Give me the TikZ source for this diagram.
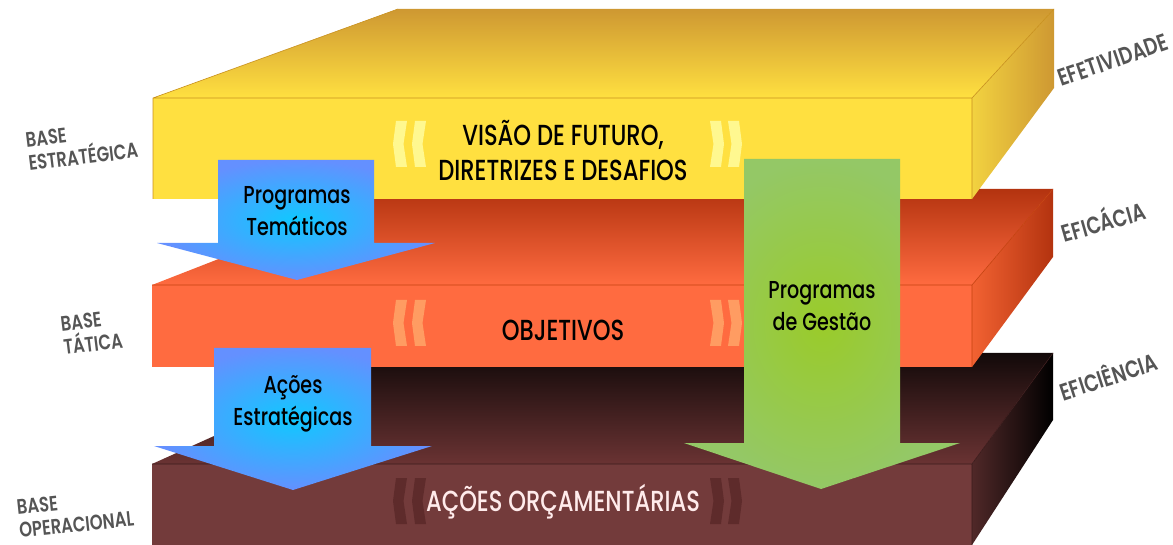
\documentclass[tikz,border=0pt]{standalone}
\usepackage{fontspec}
\setmainfont{Poppins}[FakeStretch=0.78, UprightFont=* Medium, BoldFont=* SemiBold]

\definecolor{yfront}{HTML}{FFE040}
\definecolor{ytopback}{HTML}{CE9832}
\definecolor{yside}{HTML}{F2D240}
\definecolor{yedge}{HTML}{C8901E}
\definecolor{ychev}{HTML}{FFF890}
\definecolor{rfront}{HTML}{FF6B40}
\definecolor{rtopback}{HTML}{B3330F}
\definecolor{rside}{HTML}{F26232}
\definecolor{redge}{HTML}{C4410F}
\definecolor{rchev}{HTML}{FF9C62}
\definecolor{bfront}{HTML}{733B3B}
\definecolor{btopback}{HTML}{120909}
\definecolor{btopfront}{HTML}{6A3333}
\definecolor{bside}{HTML}{502828}
\definecolor{bedge}{HTML}{3A1A1A}
\definecolor{bchev}{HTML}{5E2B2B}
\definecolor{arrowblue}{HTML}{6490FF}
\definecolor{arrowcyan}{HTML}{10C8FF}
\definecolor{arrowgreen}{HTML}{94C866}
\definecolor{arrowlime}{HTML}{9ACB2A}
\definecolor{labelgray}{HTML}{555555}

\tikzset{
  slabtext/.style={font=\fontsize{29}{35}\selectfont, align=center},
  arrowtext/.style={font=\fontsize{24.5}{32}\selectfont, align=center, text=black},
  sidelabel/.style={font=\bfseries\fontsize{21}{23.5}\selectfont, text=labelgray, align=left, inner sep=0pt},
  sidelabelr/.style={sidelabel, font=\bfseries\fontsize{24}{24}\selectfont},
  edge/.style={line width=0.6pt},
}

\begin{document}
\begin{tikzpicture}[x=1pt, y=-1pt]

  \useasboundingbox (0,0) rectangle (1173,545);

  % base operacional
  \shade[top color=btopback, bottom color=btopfront] (398,353) -- (1053,353) -- (972,464) -- (152,464) -- cycle;
  \shade[left color=bside, right color=black] (972,464) -- (1053,353) -- (1053,420) -- (972,545) -- cycle;
  \fill[bfront] (152,464) rectangle (972,545);
  \draw[edge, bedge] (152,464) -- (972,464) -- (1053,353) (972,464) -- (972,545);

  % base tatica
  \shade[top color=rtopback, bottom color=rfront] (398,189) -- (1053,189) -- (972,285) -- (152,285) -- cycle;
  \shade[left color=rside, right color=rtopback] (972,285) -- (1053,189) -- (1053,257) -- (972,367) -- cycle;
  \fill[rfront] (152,285) rectangle (972,367);
  \draw[edge, redge] (152,285) -- (972,285) -- (1053,189) (972,285) -- (972,367);

  % base estrategica
  \shade[top color=ytopback, bottom color=yfront] (398,9) -- (1054,9) -- (972,98) -- (153,98) -- cycle;
  \shade[left color=yside, right color=ytopback] (972,98) -- (1054,9) -- (1054,88) -- (972,199) -- cycle;
  \fill[yfront] (153,98) rectangle (972,199);
  \draw[edge, yedge] (153,199) -- (153,98) -- (398,9) (153,98) -- (972,98) -- (1054,9) (972,98) -- (972,199);

  % chevrons
  \foreach \t/\c in {121/ychev, 300/rchev, 478/bchev} {
    \foreach \a in {393, 412}
      \fill[\c] (\a+3,\t) -- (\a+14,\t) -- (\a+10.5,\t+23) -- (\a+14,\t+46) -- (\a+3,\t+46) -- (\a,\t+23) -- cycle;
    \foreach \b in {724, 742}
      \fill[\c] (\b-3,\t) -- (\b-14,\t) -- (\b-10.5,\t+23) -- (\b-14,\t+46) -- (\b-3,\t+46) -- (\b,\t+23) -- cycle;
  }

  \node[slabtext] (visao) at (563,150) {VISÃO DE FUTURO,\\DIRETRIZES E DESAFIOS};
  \node[slabtext] (objetivos) at (563,330) {OBJETIVOS};
  \node[slabtext, text=white!92!red] (acoesorc) at (563,502) {AÇÕES ORÇAMENTÁRIAS};

  % arrows
  \shade[inner color=arrowcyan, outer color=arrowblue] (218,160) -- (374,160) -- (374,243) -- (435,243) -- (297,280) -- (157,243) -- (218,243) -- cycle;
  \shade[inner color=arrowcyan, outer color=arrowblue] (214,348) -- (371,348) -- (371,446) -- (432,446) -- (293,490) -- (154,446) -- (214,446) -- cycle;
  \shade[inner color=arrowlime, outer color=arrowgreen] (744,159) -- (900,159) -- (900,443) -- (960,443) -- (821,489) -- (684,443) -- (744,443) -- cycle;

  \node[arrowtext] (tematicos) at (297,211) {Programas\\Temáticos};
  \node[arrowtext] (acoesest) at (293,404) {Ações\\Estratégicas};
  \node[arrowtext] (gestao) at (822,306) {Programas\\de Gestão};

  % labels
  \node[sidelabel, anchor=west, rotate=7] (estrategica) at (27,152) {BASE\\ESTRATÉGICA};
  \node[sidelabel, anchor=west, rotate=7] (tatica) at (62,336) {BASE\\TÁTICA};
  \node[sidelabel, anchor=west, rotate=6] (operacional) at (18,519) {BASE\\OPERACIONAL};

  \node[sidelabelr, rotate=19] (efetividade) at (1113,60) {EFETIVIDADE};
  \node[sidelabelr, rotate=16] (eficacia) at (1103,220) {EFICÁCIA};
  \node[sidelabelr, rotate=18] (eficiencia) at (1108,375) {EFICIÊNCIA};

\end{tikzpicture}
\end{document}
